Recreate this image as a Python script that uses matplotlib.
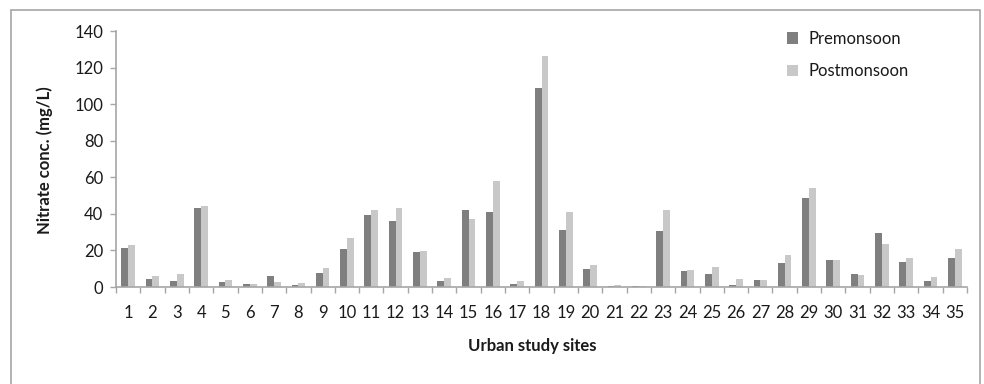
import matplotlib
matplotlib.use("Agg")
import matplotlib.pyplot as plt
import numpy as np
from matplotlib.patches import Rectangle

sites = [str(i) for i in range(1, 36)]
premonsoon = [21.5, 4.4, 3.5, 43.2, 2.7, 1.6, 5.8, 1.1, 7.7, 20.8,
              39.2, 35.9, 19.1, 3.5, 42.1, 41.2, 1.6, 108.9, 31.3, 10.0,
              0.7, 0.5, 30.4, 8.6, 7.1, 1.3, 3.8, 13.1, 48.8, 14.6,
              7.1, 29.7, 13.8, 3.1, 16.0]
postmonsoon = [22.8, 5.8, 7.1, 44.1, 4.0, 1.8, 2.9, 2.4, 10.4, 26.6,
               42.3, 43.0, 19.9, 5.1, 37.2, 57.9, 3.5, 126.4, 40.8, 11.8,
               1.1, 0.5, 41.9, 9.5, 10.7, 4.6, 3.8, 17.7, 53.9, 14.6,
               6.6, 23.7, 15.8, 5.6, 20.6]
series_names = ["Premonsoon", "Postmonsoon"]
yticks = [0, 20, 40, 60, 80, 100, 120, 140]

plt.rcParams['font.family'] = ['Lato', 'DejaVu Sans']
txt = '#1a1a1a'
axc = '#a6a6a6'

fig = plt.figure(figsize=(9.84, 3.84), dpi=100)
ax = fig.add_axes([116/984, 1-287/384, (967-116)/984, (287-31)/384])

x = np.arange(len(sites))
w = 0.28
ax.bar(x - w/2, premonsoon, w, color='#7f7f7f', label=series_names[0])
ax.bar(x + w/2, postmonsoon, w, color='#c8c8c8', label=series_names[1])

ax.set_xlim(-0.5, len(sites) - 0.5)
ax.set_ylim(0, 140)
ax.set_yticks(yticks)
ax.set_xticks(x)
ax.set_xticklabels(sites)
ax.set_xticks(np.arange(-0.5, len(sites), 1.0), minor=True)
ax.tick_params(axis='x', which='major', length=0, pad=13, labelsize=12, colors=txt)
ax.tick_params(axis='x', which='minor', length=4, width=1, color=axc, direction='out')
ax.tick_params(axis='y', length=4, width=1, color=axc, pad=5, labelsize=12, labelcolor=txt)

for s in ['top', 'right']:
    ax.spines[s].set_visible(False)
for s in ['left', 'bottom']:
    ax.spines[s].set_color(axc)
    ax.spines[s].set_linewidth(1.2)

fig.text(532/984, 1-346/384, "Urban study sites", ha='center', va='center',
         fontsize=12, fontweight='bold', color=txt)
fig.text(45/984, 1-160/384, "Nitrate conc. (mg/L)", ha='center', va='center',
         rotation=90, fontsize=12, fontweight='bold', color=txt)

leg = ax.legend(loc='upper left', bbox_to_anchor=(780/984, 1-24/384),
                bbox_transform=fig.transFigure, frameon=False, fontsize=12,
                handlelength=0.7, handleheight=0.7, handletextpad=0.6,
                labelspacing=1.0, borderaxespad=0)
for t in leg.get_texts():
    t.set_color(txt)

fig.patches.append(Rectangle((11/984, -0.1), (980-11)/984, 1.1 - 10/384,
                             transform=fig.transFigure, fill=False,
                             edgecolor=axc, linewidth=1.2))

fig.savefig("out.png", dpi=100)
